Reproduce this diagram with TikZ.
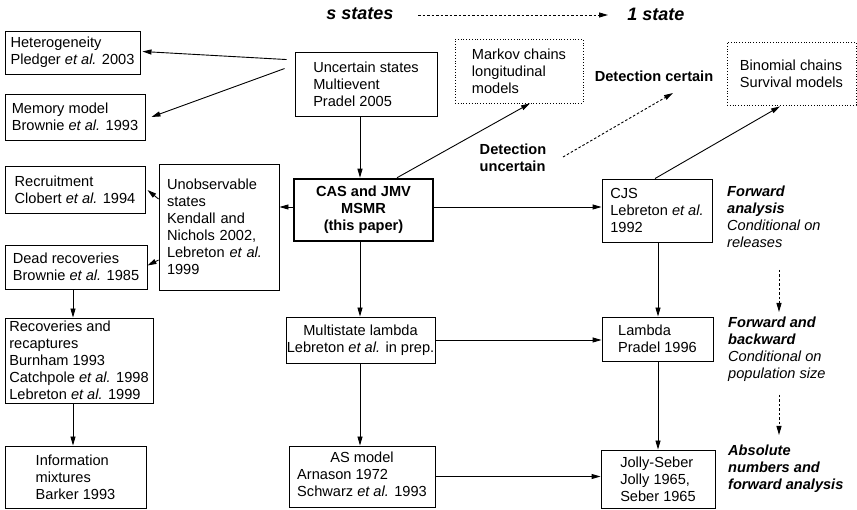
\documentclass[tikz,border=0pt]{standalone}
\usepackage{fontspec}
\setmainfont{Liberation Sans}
\usetikzlibrary{arrows.meta,calc}
\newcommand{\myetal}{\textit{et al.}}
\begin{document}
\begin{tikzpicture}[x=1pt,y=-1pt,
  every node/.style={font=\fontsize{14.6}{17}\selectfont, inner sep=0pt},
  box/.style={draw, line width=0.9pt, align=left},
  dbox/.style={draw, dotted, line width=0.8pt, align=left},
  conn/.style={line width=0.9pt, -{Triangle[length=9pt,width=5pt]}},
  dconn/.style={line width=0.9pt, dash pattern=on 2.5pt off 2pt, -{Triangle[length=9pt,width=5pt]}},
  note/.style={align=left, anchor=west},
  head/.style={font=\fontsize{18}{21}\selectfont\bfseries\itshape},
  boldlbl/.style={font=\fontsize{14.6}{17}\selectfont\bfseries, align=left},
]
\useasboundingbox (0,0) rectangle (857,510);

% boxes
\node[box, minimum width=135pt, minimum height=43pt] (het) at (72.5,52.5) {Heterogeneity\\Pledger {\myetal} 2003};
\node[box, minimum width=140pt, minimum height=46pt] (mem) at (75,117) {Memory model\\Brownie {\myetal} 1993};
\node[box, minimum width=142pt, minimum height=64pt] (unc) at (366,84) {Uncertain states\\Multievent\\Pradel 2005};
\node[dbox, minimum width=128pt, minimum height=64pt] (markov) at (519,71) {Markov chains\\longitudinal\\models};
\node[dbox, minimum width=129pt, minimum height=63pt] (binom) at (791.5,73.5) {Binomial chains\\Survival models};
\node[box, minimum width=140pt, minimum height=47pt] (recruit) at (75,189.5) {Recruitment\\Clobert {\myetal} 1994};
\node[box, text width=104pt, inner xsep=8pt, minimum height=126pt] (unobs) at (219,227) {Unobservable\\states\\Kendall and\\Nichols 2002,\\Lebreton {\myetal}\\1999};
\node[box, line width=2.5pt, align=center, font=\fontsize{14.6}{17}\selectfont\bfseries, minimum width=139pt, minimum height=62pt] (cas) at (363.5,210) {CAS and JMV\\MSMR\\(this paper)};
\node[box, minimum width=142pt, minimum height=44pt] (dead) at (76,267) {Dead recoveries\\Brownie {\myetal} 1985};
\node[box, minimum width=148pt, minimum height=85pt] (recov) at (79,360.5) {Recoveries and\\recaptures\\Burnham 1993\\Catchpole {\myetal} 1998\\Lebreton {\myetal} 1999};
\node[box, minimum width=141pt, minimum height=62pt] (info) at (75.5,477) {Information\\mixtures\\Barker 1993};
\node[box, align=center, minimum width=149pt, minimum height=46pt] (mlam) at (360.5,340) {Multistate lambda\\Lebreton {\myetal} in prep.};
\node[box, minimum width=146pt, minimum height=61pt] (as) at (362,476.5) {\begin{tabular}{@{}l@{}}\multicolumn{1}{@{}c@{}}{AS model}\\Arnason 1972\\Schwarz {\myetal} 1993\end{tabular}};
\node[box, minimum width=110pt, minimum height=63pt] (cjs) at (657,210.5) {CJS\\Lebreton {\myetal}\\1992};
\node[box, minimum width=111pt, minimum height=44pt] (lam) at (657.5,339) {Lambda\\Pradel 1996};
\node[box, minimum width=114pt, minimum height=58pt] (js) at (658,479) {Jolly-Seber\\Jolly 1965,\\Seber 1965};

% labels
\node[head] (ss) at (360,14) {s states};
\node[head] (one) at (656,14) {1 state};
\node[boldlbl] (dc) at (654,76) {Detection certain};
\node[boldlbl] (du) at (513,158) {Detection\\uncertain};
\node[note] (fa) at (727,216.5) {\textbf{\textit{Forward}}\\\textbf{\textit{analysis}}\\\textit{Conditional on}\\\textit{releases}};
\node[note] (fb) at (728,349) {\textbf{\textit{Forward and}}\\\textbf{\textit{backward}}\\\textit{Conditional on}\\\textit{population size}};
\node[note] (ab) at (728,468.5) {\textbf{\textit{Absolute}}\\\textbf{\textit{numbers and}}\\\textbf{\textit{forward analysis}}};

% helper coordinates
\coordinate (vx) at (360,0);
\coordinate (vy) at (658,0);
\coordinate (lx) at (73,0);
\coordinate (s1) at (418,15);
\coordinate (e1) at (608,15);
\coordinate (s2) at (563,157);
\coordinate (e2) at (673,93);
\coordinate (s3) at (779,270);
\coordinate (e3) at (779,312);
\coordinate (s4) at (779,395);
\coordinate (e4) at (779,435);

% dotted arrows
\draw[dconn] (s1) -- (e1);
\draw[dconn] (s2) -- (e2);
\draw[dconn] (s3) -- (e3);
\draw[dconn] (s4) -- (e4);

% connectors
\draw[conn] ($(unc.north west)+(-8,8)$) -- ($(het.east)+(2,-1)$);
\draw[conn] ($(unc.north west)+(-10,17)$) -- ($(mem.east)+(6,0)$);
\draw[conn] (unc.south -| vx) -- (cas.north -| vx);
\draw[conn] ($(cas.north)+(33.5,0)$) -- ($(markov.south)+(11,0)$);
\draw[conn] ($(cas.west)+(0,-3)$) -- ($(cas.west -| unobs.east)+(0,-3)$);
\draw[conn] ($(unobs.west)+(0,-28)$) -- ($(recruit.east)+(2,0.5)$);
\draw[conn] ($(unobs.west)+(0,33)$) -- ($(dead.east)+(0,-1.5)$);
\draw[conn] (dead.south -| lx) -- (recov.north -| lx);
\draw[conn] (recov.south -| lx) -- (info.north -| lx);
\draw[conn] ($(cas.east)+(0,-3)$) -- ($(cas.east -| cjs.west)+(0,-3)$);
\draw[conn] ($(cjs.north)+(-2,0)$) -- ($(binom.south)+(-11.5,1)$);
\draw[conn] (cas.south -| vx) -- (mlam.north -| vx);
\draw[conn] (mlam.south -| vx) -- (as.north -| vx);
\draw[conn] (mlam.east) -- (mlam.east -| lam.west);
\draw[conn] (as.east) -- (as.east -| js.west);
\draw[conn] (cjs.south -| vy) -- (lam.north -| vy);
\draw[conn] (lam.south -| vy) -- (js.north -| vy);
\end{tikzpicture}
\end{document}
